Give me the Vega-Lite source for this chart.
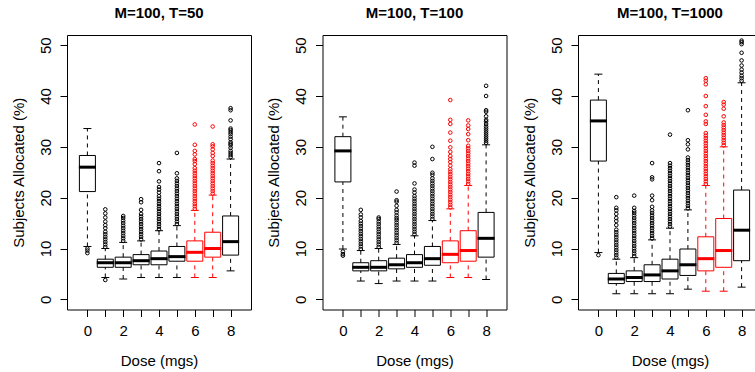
{
 "$schema": "https://vega.github.io/schema/vega-lite/v6.json",
 "background": "white",
 "padding": {"left": 10, "top": 5, "right": 0, "bottom": 0},
 "bounds": "flush",
 "spacing": 71.5,
 "config": {
  "font": "Liberation Sans",
  "view": {"stroke": "black", "strokeWidth": 1},
  "tick": {"opacity": 1},
  "axis": {"domain": false, "grid": false, "tickColor": "black", "tickSize": 7, "tickWidth": 1, "labelFontSize": 15, "titleFontSize": 15, "titleFontWeight": "normal", "labelColor": "black", "titleColor": "black", "labelFont": "Liberation Sans", "titleFont": "Liberation Sans"},
  "axisX": {"labelPadding": 7, "titlePadding": 15, "labelAngle": 0},
  "axisY": {"labelAngle": -90, "labelAlign": "center", "labelBaseline": "alphabetic", "labelPadding": 10, "titlePadding": 12},
  "title": {"fontSize": 15, "fontWeight": "bold", "font": "Liberation Sans", "color": "black", "offset": 14}
 },
 "datasets": {
  "boxes": [
   {"T":50,"dose":0,"lo":10.4,"q1":21.2,"med":26.0,"q3":28.3,"hi":33.6},
   {"T":50,"dose":1,"lo":4.3,"q1":6.3,"med":7.2,"q3":7.9,"hi":10.0},
   {"T":50,"dose":2,"lo":4.0,"q1":6.3,"med":7.2,"q3":8.3,"hi":11.2},
   {"T":50,"dose":3,"lo":4.3,"q1":6.8,"med":7.6,"q3":8.8,"hi":11.5},
   {"T":50,"dose":4,"lo":4.3,"q1":6.8,"med":8.0,"q3":9.5,"hi":13.5},
   {"T":50,"dose":5,"lo":4.3,"q1":7.5,"med":8.4,"q3":10.4,"hi":14.5},
   {"T":50,"dose":6,"lo":4.3,"q1":7.5,"med":9.25,"q3":11.5,"hi":17.5},
   {"T":50,"dose":7,"lo":4.3,"q1":8.3,"med":10.0,"q3":13.2,"hi":20.5},
   {"T":50,"dose":8,"lo":5.6,"q1":8.7,"med":11.35,"q3":16.4,"hi":27.6},
   {"T":100,"dose":0,"lo":9.9,"q1":23.1,"med":29.2,"q3":32.0,"hi":35.9},
   {"T":100,"dose":1,"lo":3.6,"q1":5.6,"med":6.3,"q3":7.2,"hi":9.6},
   {"T":100,"dose":2,"lo":3.1,"q1":5.6,"med":6.3,"q3":7.6,"hi":10.0},
   {"T":100,"dose":3,"lo":3.6,"q1":6.0,"med":6.8,"q3":8.1,"hi":10.8},
   {"T":100,"dose":4,"lo":3.6,"q1":6.3,"med":7.2,"q3":8.8,"hi":12.5},
   {"T":100,"dose":5,"lo":3.6,"q1":6.7,"med":8.0,"q3":10.4,"hi":15.5},
   {"T":100,"dose":6,"lo":4.3,"q1":7.2,"med":8.85,"q3":11.5,"hi":17.8},
   {"T":100,"dose":7,"lo":4.3,"q1":7.5,"med":9.6,"q3":13.5,"hi":22.4},
   {"T":100,"dose":8,"lo":3.9,"q1":8.3,"med":12.0,"q3":17.1,"hi":30.4},
   {"T":1000,"dose":0,"lo":9.2,"q1":27.2,"med":35.1,"q3":39.2,"hi":44.3},
   {"T":1000,"dose":1,"lo":1.1,"q1":3.1,"med":4.0,"q3":5.1,"hi":7.9},
   {"T":1000,"dose":2,"lo":1.1,"q1":3.5,"med":4.3,"q3":5.6,"hi":8.2},
   {"T":1000,"dose":3,"lo":1.1,"q1":3.5,"med":4.8,"q3":6.8,"hi":11.7},
   {"T":1000,"dose":4,"lo":1.1,"q1":4.0,"med":5.6,"q3":7.9,"hi":14.0},
   {"T":1000,"dose":5,"lo":2.0,"q1":4.7,"med":6.8,"q3":9.9,"hi":17.6},
   {"T":1000,"dose":6,"lo":1.6,"q1":5.6,"med":8.0,"q3":12.3,"hi":22.4},
   {"T":1000,"dose":7,"lo":1.6,"q1":6.3,"med":9.6,"q3":15.9,"hi":30.0},
   {"T":1000,"dose":8,"lo":2.4,"q1":7.6,"med":13.6,"q3":21.5,"hi":42.6}
  ],
  "outliers": [
   {"T":50,"dose":0,"pct":10.0},{"T":50,"dose":0,"pct":9.6},{"T":50,"dose":0,"pct":9.1},
   {"T":50,"dose":1,"pct":3.8},{"T":50,"dose":1,"pct":10.3},{"T":50,"dose":1,"pct":10.8},{"T":50,"dose":1,"pct":11.3},{"T":50,"dose":1,"pct":11.8},{"T":50,"dose":1,"pct":12.3},{"T":50,"dose":1,"pct":12.8},{"T":50,"dose":1,"pct":13.3},{"T":50,"dose":1,"pct":14.0},{"T":50,"dose":1,"pct":14.6},{"T":50,"dose":1,"pct":15.3},{"T":50,"dose":1,"pct":16.1},{"T":50,"dose":1,"pct":16.9},{"T":50,"dose":1,"pct":17.7},
   {"T":50,"dose":2,"pct":11.5},{"T":50,"dose":2,"pct":12.0},{"T":50,"dose":2,"pct":12.5},{"T":50,"dose":2,"pct":13.0},{"T":50,"dose":2,"pct":13.5},{"T":50,"dose":2,"pct":14.0},{"T":50,"dose":2,"pct":14.5},{"T":50,"dose":2,"pct":15.0},{"T":50,"dose":2,"pct":15.5},{"T":50,"dose":2,"pct":16.0},{"T":50,"dose":2,"pct":16.4},
   {"T":50,"dose":3,"pct":11.8},{"T":50,"dose":3,"pct":12.3},{"T":50,"dose":3,"pct":12.8},{"T":50,"dose":3,"pct":13.3},{"T":50,"dose":3,"pct":13.8},{"T":50,"dose":3,"pct":14.3},{"T":50,"dose":3,"pct":14.8},{"T":50,"dose":3,"pct":15.3},{"T":50,"dose":3,"pct":15.8},{"T":50,"dose":3,"pct":16.3},{"T":50,"dose":3,"pct":16.8},{"T":50,"dose":3,"pct":17.6},{"T":50,"dose":3,"pct":19.1},{"T":50,"dose":3,"pct":19.7},
   {"T":50,"dose":4,"pct":13.8},{"T":50,"dose":4,"pct":14.3},{"T":50,"dose":4,"pct":14.8},{"T":50,"dose":4,"pct":15.3},{"T":50,"dose":4,"pct":15.8},{"T":50,"dose":4,"pct":16.3},{"T":50,"dose":4,"pct":16.8},{"T":50,"dose":4,"pct":17.3},{"T":50,"dose":4,"pct":17.8},{"T":50,"dose":4,"pct":18.3},{"T":50,"dose":4,"pct":18.8},{"T":50,"dose":4,"pct":19.3},{"T":50,"dose":4,"pct":19.8},{"T":50,"dose":4,"pct":20.3},{"T":50,"dose":4,"pct":21.0},{"T":50,"dose":4,"pct":21.6},{"T":50,"dose":4,"pct":22.1},{"T":50,"dose":4,"pct":23.2},{"T":50,"dose":4,"pct":25.2},{"T":50,"dose":4,"pct":26.8},
   {"T":50,"dose":5,"pct":14.8},{"T":50,"dose":5,"pct":15.3},{"T":50,"dose":5,"pct":15.8},{"T":50,"dose":5,"pct":16.3},{"T":50,"dose":5,"pct":16.8},{"T":50,"dose":5,"pct":17.3},{"T":50,"dose":5,"pct":17.8},{"T":50,"dose":5,"pct":18.3},{"T":50,"dose":5,"pct":18.8},{"T":50,"dose":5,"pct":19.3},{"T":50,"dose":5,"pct":19.8},{"T":50,"dose":5,"pct":20.3},{"T":50,"dose":5,"pct":20.8},{"T":50,"dose":5,"pct":21.3},{"T":50,"dose":5,"pct":21.8},{"T":50,"dose":5,"pct":22.3},{"T":50,"dose":5,"pct":22.8},{"T":50,"dose":5,"pct":23.3},{"T":50,"dose":5,"pct":23.8},{"T":50,"dose":5,"pct":24.8},{"T":50,"dose":5,"pct":28.8},
   {"T":50,"dose":6,"pct":17.8},{"T":50,"dose":6,"pct":18.3},{"T":50,"dose":6,"pct":18.8},{"T":50,"dose":6,"pct":19.3},{"T":50,"dose":6,"pct":19.8},{"T":50,"dose":6,"pct":20.3},{"T":50,"dose":6,"pct":20.8},{"T":50,"dose":6,"pct":21.3},{"T":50,"dose":6,"pct":21.8},{"T":50,"dose":6,"pct":22.3},{"T":50,"dose":6,"pct":22.8},{"T":50,"dose":6,"pct":23.3},{"T":50,"dose":6,"pct":23.8},{"T":50,"dose":6,"pct":24.3},{"T":50,"dose":6,"pct":24.8},{"T":50,"dose":6,"pct":25.3},{"T":50,"dose":6,"pct":25.8},{"T":50,"dose":6,"pct":26.6},{"T":50,"dose":6,"pct":27.2},{"T":50,"dose":6,"pct":27.6},{"T":50,"dose":6,"pct":28.5},{"T":50,"dose":6,"pct":29.2},{"T":50,"dose":6,"pct":30.4},{"T":50,"dose":6,"pct":34.4},
   {"T":50,"dose":7,"pct":20.8},{"T":50,"dose":7,"pct":21.3},{"T":50,"dose":7,"pct":21.8},{"T":50,"dose":7,"pct":22.3},{"T":50,"dose":7,"pct":22.8},{"T":50,"dose":7,"pct":23.3},{"T":50,"dose":7,"pct":23.8},{"T":50,"dose":7,"pct":24.3},{"T":50,"dose":7,"pct":24.8},{"T":50,"dose":7,"pct":25.3},{"T":50,"dose":7,"pct":25.8},{"T":50,"dose":7,"pct":26.3},{"T":50,"dose":7,"pct":26.8},{"T":50,"dose":7,"pct":27.3},{"T":50,"dose":7,"pct":28.2},{"T":50,"dose":7,"pct":28.8},{"T":50,"dose":7,"pct":29.5},{"T":50,"dose":7,"pct":30.1},{"T":50,"dose":7,"pct":30.5},{"T":50,"dose":7,"pct":34.0},
   {"T":50,"dose":8,"pct":28.0},{"T":50,"dose":8,"pct":28.4},{"T":50,"dose":8,"pct":28.8},{"T":50,"dose":8,"pct":29.2},{"T":50,"dose":8,"pct":29.8},{"T":50,"dose":8,"pct":30.3},{"T":50,"dose":8,"pct":30.6},{"T":50,"dose":8,"pct":30.9},{"T":50,"dose":8,"pct":31.5},{"T":50,"dose":8,"pct":32.0},{"T":50,"dose":8,"pct":32.5},{"T":50,"dose":8,"pct":32.9},{"T":50,"dose":8,"pct":33.3},{"T":50,"dose":8,"pct":33.6},{"T":50,"dose":8,"pct":35.2},{"T":50,"dose":8,"pct":37.2},{"T":50,"dose":8,"pct":37.6},
   {"T":100,"dose":0,"pct":9.4},{"T":100,"dose":0,"pct":8.9},{"T":100,"dose":0,"pct":8.6},
   {"T":100,"dose":1,"pct":9.9},{"T":100,"dose":1,"pct":10.4},{"T":100,"dose":1,"pct":10.9},{"T":100,"dose":1,"pct":11.4},{"T":100,"dose":1,"pct":11.9},{"T":100,"dose":1,"pct":12.4},{"T":100,"dose":1,"pct":12.9},{"T":100,"dose":1,"pct":13.4},{"T":100,"dose":1,"pct":13.9},{"T":100,"dose":1,"pct":14.4},{"T":100,"dose":1,"pct":14.9},{"T":100,"dose":1,"pct":15.4},{"T":100,"dose":1,"pct":16.1},{"T":100,"dose":1,"pct":16.7},{"T":100,"dose":1,"pct":17.6},
   {"T":100,"dose":2,"pct":10.3},{"T":100,"dose":2,"pct":10.8},{"T":100,"dose":2,"pct":11.3},{"T":100,"dose":2,"pct":11.8},{"T":100,"dose":2,"pct":12.3},{"T":100,"dose":2,"pct":12.8},{"T":100,"dose":2,"pct":13.3},{"T":100,"dose":2,"pct":13.8},{"T":100,"dose":2,"pct":14.3},{"T":100,"dose":2,"pct":14.8},{"T":100,"dose":2,"pct":15.3},{"T":100,"dose":2,"pct":15.8},{"T":100,"dose":2,"pct":16.1},
   {"T":100,"dose":3,"pct":11.1},{"T":100,"dose":3,"pct":11.6},{"T":100,"dose":3,"pct":12.1},{"T":100,"dose":3,"pct":12.6},{"T":100,"dose":3,"pct":13.1},{"T":100,"dose":3,"pct":13.6},{"T":100,"dose":3,"pct":14.1},{"T":100,"dose":3,"pct":14.6},{"T":100,"dose":3,"pct":15.1},{"T":100,"dose":3,"pct":15.6},{"T":100,"dose":3,"pct":16.0},{"T":100,"dose":3,"pct":16.5},{"T":100,"dose":3,"pct":17.1},{"T":100,"dose":3,"pct":17.6},{"T":100,"dose":3,"pct":18.4},{"T":100,"dose":3,"pct":19.2},{"T":100,"dose":3,"pct":19.5},{"T":100,"dose":3,"pct":21.2},
   {"T":100,"dose":4,"pct":12.8},{"T":100,"dose":4,"pct":13.3},{"T":100,"dose":4,"pct":13.8},{"T":100,"dose":4,"pct":14.3},{"T":100,"dose":4,"pct":14.8},{"T":100,"dose":4,"pct":15.3},{"T":100,"dose":4,"pct":15.8},{"T":100,"dose":4,"pct":16.3},{"T":100,"dose":4,"pct":16.8},{"T":100,"dose":4,"pct":17.3},{"T":100,"dose":4,"pct":17.8},{"T":100,"dose":4,"pct":18.3},{"T":100,"dose":4,"pct":18.8},{"T":100,"dose":4,"pct":19.3},{"T":100,"dose":4,"pct":19.8},{"T":100,"dose":4,"pct":20.3},{"T":100,"dose":4,"pct":21.0},{"T":100,"dose":4,"pct":21.6},{"T":100,"dose":4,"pct":22.8},{"T":100,"dose":4,"pct":26.3},{"T":100,"dose":4,"pct":26.9},
   {"T":100,"dose":5,"pct":15.8},{"T":100,"dose":5,"pct":16.3},{"T":100,"dose":5,"pct":16.8},{"T":100,"dose":5,"pct":17.3},{"T":100,"dose":5,"pct":17.8},{"T":100,"dose":5,"pct":18.3},{"T":100,"dose":5,"pct":18.8},{"T":100,"dose":5,"pct":19.3},{"T":100,"dose":5,"pct":19.8},{"T":100,"dose":5,"pct":20.3},{"T":100,"dose":5,"pct":20.8},{"T":100,"dose":5,"pct":21.3},{"T":100,"dose":5,"pct":21.8},{"T":100,"dose":5,"pct":22.3},{"T":100,"dose":5,"pct":22.8},{"T":100,"dose":5,"pct":23.3},{"T":100,"dose":5,"pct":23.8},{"T":100,"dose":5,"pct":24.5},{"T":100,"dose":5,"pct":24.9},{"T":100,"dose":5,"pct":27.6},{"T":100,"dose":5,"pct":30.0},
   {"T":100,"dose":6,"pct":18.1},{"T":100,"dose":6,"pct":18.6},{"T":100,"dose":6,"pct":19.1},{"T":100,"dose":6,"pct":19.6},{"T":100,"dose":6,"pct":20.1},{"T":100,"dose":6,"pct":20.6},{"T":100,"dose":6,"pct":21.1},{"T":100,"dose":6,"pct":21.6},{"T":100,"dose":6,"pct":22.1},{"T":100,"dose":6,"pct":22.6},{"T":100,"dose":6,"pct":23.1},{"T":100,"dose":6,"pct":23.6},{"T":100,"dose":6,"pct":24.1},{"T":100,"dose":6,"pct":24.6},{"T":100,"dose":6,"pct":25.1},{"T":100,"dose":6,"pct":25.6},{"T":100,"dose":6,"pct":26.3},{"T":100,"dose":6,"pct":27.0},{"T":100,"dose":6,"pct":27.6},{"T":100,"dose":6,"pct":28.2},{"T":100,"dose":6,"pct":29.0},{"T":100,"dose":6,"pct":29.9},{"T":100,"dose":6,"pct":31.2},{"T":100,"dose":6,"pct":32.8},{"T":100,"dose":6,"pct":34.5},{"T":100,"dose":6,"pct":35.3},{"T":100,"dose":6,"pct":39.2},
   {"T":100,"dose":7,"pct":22.7},{"T":100,"dose":7,"pct":23.2},{"T":100,"dose":7,"pct":23.7},{"T":100,"dose":7,"pct":24.2},{"T":100,"dose":7,"pct":24.7},{"T":100,"dose":7,"pct":25.2},{"T":100,"dose":7,"pct":25.7},{"T":100,"dose":7,"pct":26.2},{"T":100,"dose":7,"pct":26.7},{"T":100,"dose":7,"pct":27.2},{"T":100,"dose":7,"pct":27.7},{"T":100,"dose":7,"pct":28.2},{"T":100,"dose":7,"pct":28.7},{"T":100,"dose":7,"pct":29.2},{"T":100,"dose":7,"pct":29.7},{"T":100,"dose":7,"pct":30.2},{"T":100,"dose":7,"pct":31.3},{"T":100,"dose":7,"pct":32.5},{"T":100,"dose":7,"pct":33.5},{"T":100,"dose":7,"pct":34.2},{"T":100,"dose":7,"pct":35.2},
   {"T":100,"dose":8,"pct":30.8},{"T":100,"dose":8,"pct":31.2},{"T":100,"dose":8,"pct":31.6},{"T":100,"dose":8,"pct":32.0},{"T":100,"dose":8,"pct":32.4},{"T":100,"dose":8,"pct":32.8},{"T":100,"dose":8,"pct":33.2},{"T":100,"dose":8,"pct":33.6},{"T":100,"dose":8,"pct":34.0},{"T":100,"dose":8,"pct":34.5},{"T":100,"dose":8,"pct":35.0},{"T":100,"dose":8,"pct":35.3},{"T":100,"dose":8,"pct":36.0},{"T":100,"dose":8,"pct":36.9},{"T":100,"dose":8,"pct":37.2},{"T":100,"dose":8,"pct":40.0},{"T":100,"dose":8,"pct":42.0},
   {"T":1000,"dose":0,"pct":8.7},
   {"T":1000,"dose":1,"pct":8.2},{"T":1000,"dose":1,"pct":8.7},{"T":1000,"dose":1,"pct":9.2},{"T":1000,"dose":1,"pct":9.7},{"T":1000,"dose":1,"pct":10.2},{"T":1000,"dose":1,"pct":10.7},{"T":1000,"dose":1,"pct":11.2},{"T":1000,"dose":1,"pct":11.7},{"T":1000,"dose":1,"pct":12.2},{"T":1000,"dose":1,"pct":12.7},{"T":1000,"dose":1,"pct":13.2},{"T":1000,"dose":1,"pct":13.7},{"T":1000,"dose":1,"pct":14.6},{"T":1000,"dose":1,"pct":15.4},{"T":1000,"dose":1,"pct":16.0},{"T":1000,"dose":1,"pct":16.8},{"T":1000,"dose":1,"pct":17.5},{"T":1000,"dose":1,"pct":18.0},{"T":1000,"dose":1,"pct":20.1},
   {"T":1000,"dose":2,"pct":8.5},{"T":1000,"dose":2,"pct":9.0},{"T":1000,"dose":2,"pct":9.5},{"T":1000,"dose":2,"pct":10.0},{"T":1000,"dose":2,"pct":10.5},{"T":1000,"dose":2,"pct":11.0},{"T":1000,"dose":2,"pct":11.5},{"T":1000,"dose":2,"pct":12.0},{"T":1000,"dose":2,"pct":12.5},{"T":1000,"dose":2,"pct":13.0},{"T":1000,"dose":2,"pct":13.5},{"T":1000,"dose":2,"pct":14.0},{"T":1000,"dose":2,"pct":14.5},{"T":1000,"dose":2,"pct":15.0},{"T":1000,"dose":2,"pct":15.5},{"T":1000,"dose":2,"pct":16.0},{"T":1000,"dose":2,"pct":16.5},{"T":1000,"dose":2,"pct":17.0},{"T":1000,"dose":2,"pct":17.4},{"T":1000,"dose":2,"pct":18.0},{"T":1000,"dose":2,"pct":20.4},
   {"T":1000,"dose":3,"pct":12.0},{"T":1000,"dose":3,"pct":12.5},{"T":1000,"dose":3,"pct":13.0},{"T":1000,"dose":3,"pct":13.5},{"T":1000,"dose":3,"pct":14.0},{"T":1000,"dose":3,"pct":14.5},{"T":1000,"dose":3,"pct":15.0},{"T":1000,"dose":3,"pct":15.5},{"T":1000,"dose":3,"pct":16.0},{"T":1000,"dose":3,"pct":16.5},{"T":1000,"dose":3,"pct":17.0},{"T":1000,"dose":3,"pct":17.5},{"T":1000,"dose":3,"pct":18.2},{"T":1000,"dose":3,"pct":19.5},{"T":1000,"dose":3,"pct":20.4},{"T":1000,"dose":3,"pct":23.6},{"T":1000,"dose":3,"pct":24.0},{"T":1000,"dose":3,"pct":26.8},
   {"T":1000,"dose":4,"pct":14.3},{"T":1000,"dose":4,"pct":14.8},{"T":1000,"dose":4,"pct":15.3},{"T":1000,"dose":4,"pct":15.8},{"T":1000,"dose":4,"pct":16.3},{"T":1000,"dose":4,"pct":16.8},{"T":1000,"dose":4,"pct":17.3},{"T":1000,"dose":4,"pct":17.8},{"T":1000,"dose":4,"pct":18.3},{"T":1000,"dose":4,"pct":18.8},{"T":1000,"dose":4,"pct":19.3},{"T":1000,"dose":4,"pct":19.8},{"T":1000,"dose":4,"pct":20.3},{"T":1000,"dose":4,"pct":20.8},{"T":1000,"dose":4,"pct":21.3},{"T":1000,"dose":4,"pct":21.8},{"T":1000,"dose":4,"pct":22.3},{"T":1000,"dose":4,"pct":22.8},{"T":1000,"dose":4,"pct":23.3},{"T":1000,"dose":4,"pct":23.8},{"T":1000,"dose":4,"pct":24.3},{"T":1000,"dose":4,"pct":24.8},{"T":1000,"dose":4,"pct":25.3},{"T":1000,"dose":4,"pct":25.8},{"T":1000,"dose":4,"pct":26.3},{"T":1000,"dose":4,"pct":26.8},{"T":1000,"dose":4,"pct":32.4},
   {"T":1000,"dose":5,"pct":17.9},{"T":1000,"dose":5,"pct":18.4},{"T":1000,"dose":5,"pct":18.9},{"T":1000,"dose":5,"pct":19.4},{"T":1000,"dose":5,"pct":19.9},{"T":1000,"dose":5,"pct":20.4},{"T":1000,"dose":5,"pct":20.9},{"T":1000,"dose":5,"pct":21.4},{"T":1000,"dose":5,"pct":21.9},{"T":1000,"dose":5,"pct":22.4},{"T":1000,"dose":5,"pct":22.9},{"T":1000,"dose":5,"pct":23.4},{"T":1000,"dose":5,"pct":23.9},{"T":1000,"dose":5,"pct":24.4},{"T":1000,"dose":5,"pct":24.9},{"T":1000,"dose":5,"pct":25.4},{"T":1000,"dose":5,"pct":25.9},{"T":1000,"dose":5,"pct":26.4},{"T":1000,"dose":5,"pct":26.9},{"T":1000,"dose":5,"pct":27.4},{"T":1000,"dose":5,"pct":27.9},{"T":1000,"dose":5,"pct":29.5},{"T":1000,"dose":5,"pct":30.5},{"T":1000,"dose":5,"pct":31.3},{"T":1000,"dose":5,"pct":37.2},
   {"T":1000,"dose":6,"pct":22.7},{"T":1000,"dose":6,"pct":23.2},{"T":1000,"dose":6,"pct":23.7},{"T":1000,"dose":6,"pct":24.2},{"T":1000,"dose":6,"pct":24.7},{"T":1000,"dose":6,"pct":25.2},{"T":1000,"dose":6,"pct":25.7},{"T":1000,"dose":6,"pct":26.2},{"T":1000,"dose":6,"pct":26.7},{"T":1000,"dose":6,"pct":27.2},{"T":1000,"dose":6,"pct":27.7},{"T":1000,"dose":6,"pct":28.2},{"T":1000,"dose":6,"pct":28.7},{"T":1000,"dose":6,"pct":29.2},{"T":1000,"dose":6,"pct":29.7},{"T":1000,"dose":6,"pct":30.2},{"T":1000,"dose":6,"pct":30.7},{"T":1000,"dose":6,"pct":31.2},{"T":1000,"dose":6,"pct":31.7},{"T":1000,"dose":6,"pct":32.2},{"T":1000,"dose":6,"pct":32.7},{"T":1000,"dose":6,"pct":34.5},{"T":1000,"dose":6,"pct":35.0},{"T":1000,"dose":6,"pct":36.3},{"T":1000,"dose":6,"pct":38.0},{"T":1000,"dose":6,"pct":40.0},{"T":1000,"dose":6,"pct":42.3},{"T":1000,"dose":6,"pct":43.0},{"T":1000,"dose":6,"pct":43.5},
   {"T":1000,"dose":7,"pct":30.3},{"T":1000,"dose":7,"pct":30.8},{"T":1000,"dose":7,"pct":31.3},{"T":1000,"dose":7,"pct":31.8},{"T":1000,"dose":7,"pct":32.3},{"T":1000,"dose":7,"pct":32.8},{"T":1000,"dose":7,"pct":33.3},{"T":1000,"dose":7,"pct":33.8},{"T":1000,"dose":7,"pct":34.3},{"T":1000,"dose":7,"pct":34.8},{"T":1000,"dose":7,"pct":36.0},{"T":1000,"dose":7,"pct":37.5},{"T":1000,"dose":7,"pct":38.3},{"T":1000,"dose":7,"pct":38.8},
   {"T":1000,"dose":8,"pct":43.0},{"T":1000,"dose":8,"pct":43.5},{"T":1000,"dose":8,"pct":44.0},{"T":1000,"dose":8,"pct":44.6},{"T":1000,"dose":8,"pct":45.2},{"T":1000,"dose":8,"pct":46.0},{"T":1000,"dose":8,"pct":47.0},{"T":1000,"dose":8,"pct":48.5},{"T":1000,"dose":8,"pct":50.2},{"T":1000,"dose":8,"pct":50.6},{"T":1000,"dose":8,"pct":50.9}
  ]
 },
 "hconcat": [
  {
   "title": "M=100, T=50",
   "width": 184, "height": 274.5,
   "encoding": {"x": {"field": "dose", "type": "quantitative", "scale": {"domain": [-0.86, 8.86], "nice": false, "zero": false}, "axis": {"values": [0,1,2,3,4,5,6,7,8], "labelExpr": "datum.value % 2 == 0 ? datum.label : ''", "title": "Dose (mgs)"}}},
   "layer": [
    {"data": {"name": "boxes"}, "transform": [{"filter": "datum.T == 50"}], "mark": {"type": "rule", "strokeDash": [4, 4], "strokeWidth": 1}, "encoding": {"y": {"field": "lo", "type": "quantitative", "scale": {"domain": [-2, 52], "nice": false, "zero": false}, "axis": {"values": [0,10,20,30,40,50], "title": "Subjects Allocated (%)"}}, "y2": {"field": "q1"}, "color": {"condition": {"test": "datum.dose == 6 || datum.dose == 7", "value": "#FF0000"}, "value": "#000000"}}},
    {"data": {"name": "boxes"}, "transform": [{"filter": "datum.T == 50"}], "mark": {"type": "rule", "strokeDash": [4, 4], "strokeWidth": 1}, "encoding": {"y": {"field": "q3", "type": "quantitative"}, "y2": {"field": "hi"}, "color": {"condition": {"test": "datum.dose == 6 || datum.dose == 7", "value": "#FF0000"}, "value": "#000000"}}},
    {"data": {"name": "boxes"}, "transform": [{"filter": "datum.T == 50"}], "mark": {"type": "tick", "orient": "horizontal", "size": 8, "thickness": 1, "opacity": 1}, "encoding": {"y": {"field": "lo", "type": "quantitative"}, "color": {"condition": {"test": "datum.dose == 6 || datum.dose == 7", "value": "#FF0000"}, "value": "#000000"}}},
    {"data": {"name": "boxes"}, "transform": [{"filter": "datum.T == 50"}], "mark": {"type": "tick", "orient": "horizontal", "size": 8, "thickness": 1, "opacity": 1}, "encoding": {"y": {"field": "hi", "type": "quantitative"}, "color": {"condition": {"test": "datum.dose == 6 || datum.dose == 7", "value": "#FF0000"}, "value": "#000000"}}},
    {"data": {"name": "boxes"}, "transform": [{"filter": "datum.T == 50"}], "mark": {"type": "bar", "orient": "vertical", "size": 16, "fill": "transparent", "strokeWidth": 1}, "encoding": {"y": {"field": "q1", "type": "quantitative"}, "y2": {"field": "q3"}, "stroke": {"condition": {"test": "datum.dose == 6 || datum.dose == 7", "value": "#FF0000"}, "value": "#000000"}}},
    {"data": {"name": "boxes"}, "transform": [{"filter": "datum.T == 50"}], "mark": {"type": "tick", "orient": "horizontal", "size": 17, "thickness": 3, "opacity": 1}, "encoding": {"y": {"field": "med", "type": "quantitative"}, "color": {"condition": {"test": "datum.dose == 6 || datum.dose == 7", "value": "#FF0000"}, "value": "#000000"}}},
    {"data": {"name": "outliers"}, "transform": [{"filter": "datum.T == 50"}], "mark": {"type": "point", "shape": "circle", "filled": false, "size": 13, "strokeWidth": 1, "opacity": 1}, "encoding": {"y": {"field": "pct", "type": "quantitative"}, "color": {"condition": {"test": "datum.dose == 6 || datum.dose == 7", "value": "#FF0000"}, "value": "#000000"}}}
   ]
  },
  {
   "title": "M=100, T=100",
   "width": 184, "height": 274.5,
   "encoding": {"x": {"field": "dose", "type": "quantitative", "scale": {"domain": [-0.86, 8.86], "nice": false, "zero": false}, "axis": {"values": [0,1,2,3,4,5,6,7,8], "labelExpr": "datum.value % 2 == 0 ? datum.label : ''", "title": "Dose (mgs)"}}},
   "layer": [
    {"data": {"name": "boxes"}, "transform": [{"filter": "datum.T == 100"}], "mark": {"type": "rule", "strokeDash": [4, 4], "strokeWidth": 1}, "encoding": {"y": {"field": "lo", "type": "quantitative", "scale": {"domain": [-2, 52], "nice": false, "zero": false}, "axis": {"values": [0,10,20,30,40,50], "title": "Subjects Allocated (%)"}}, "y2": {"field": "q1"}, "color": {"condition": {"test": "datum.dose == 6 || datum.dose == 7", "value": "#FF0000"}, "value": "#000000"}}},
    {"data": {"name": "boxes"}, "transform": [{"filter": "datum.T == 100"}], "mark": {"type": "rule", "strokeDash": [4, 4], "strokeWidth": 1}, "encoding": {"y": {"field": "q3", "type": "quantitative"}, "y2": {"field": "hi"}, "color": {"condition": {"test": "datum.dose == 6 || datum.dose == 7", "value": "#FF0000"}, "value": "#000000"}}},
    {"data": {"name": "boxes"}, "transform": [{"filter": "datum.T == 100"}], "mark": {"type": "tick", "orient": "horizontal", "size": 8, "thickness": 1, "opacity": 1}, "encoding": {"y": {"field": "lo", "type": "quantitative"}, "color": {"condition": {"test": "datum.dose == 6 || datum.dose == 7", "value": "#FF0000"}, "value": "#000000"}}},
    {"data": {"name": "boxes"}, "transform": [{"filter": "datum.T == 100"}], "mark": {"type": "tick", "orient": "horizontal", "size": 8, "thickness": 1, "opacity": 1}, "encoding": {"y": {"field": "hi", "type": "quantitative"}, "color": {"condition": {"test": "datum.dose == 6 || datum.dose == 7", "value": "#FF0000"}, "value": "#000000"}}},
    {"data": {"name": "boxes"}, "transform": [{"filter": "datum.T == 100"}], "mark": {"type": "bar", "orient": "vertical", "size": 16, "fill": "transparent", "strokeWidth": 1}, "encoding": {"y": {"field": "q1", "type": "quantitative"}, "y2": {"field": "q3"}, "stroke": {"condition": {"test": "datum.dose == 6 || datum.dose == 7", "value": "#FF0000"}, "value": "#000000"}}},
    {"data": {"name": "boxes"}, "transform": [{"filter": "datum.T == 100"}], "mark": {"type": "tick", "orient": "horizontal", "size": 17, "thickness": 3, "opacity": 1}, "encoding": {"y": {"field": "med", "type": "quantitative"}, "color": {"condition": {"test": "datum.dose == 6 || datum.dose == 7", "value": "#FF0000"}, "value": "#000000"}}},
    {"data": {"name": "outliers"}, "transform": [{"filter": "datum.T == 100"}], "mark": {"type": "point", "shape": "circle", "filled": false, "size": 13, "strokeWidth": 1, "opacity": 1}, "encoding": {"y": {"field": "pct", "type": "quantitative"}, "color": {"condition": {"test": "datum.dose == 6 || datum.dose == 7", "value": "#FF0000"}, "value": "#000000"}}}
   ]
  },
  {
   "title": "M=100, T=1000",
   "width": 184, "height": 274.5,
   "encoding": {"x": {"field": "dose", "type": "quantitative", "scale": {"domain": [-0.86, 8.86], "nice": false, "zero": false}, "axis": {"values": [0,1,2,3,4,5,6,7,8], "labelExpr": "datum.value % 2 == 0 ? datum.label : ''", "title": "Dose (mgs)"}}},
   "layer": [
    {"data": {"name": "boxes"}, "transform": [{"filter": "datum.T == 1000"}], "mark": {"type": "rule", "strokeDash": [4, 4], "strokeWidth": 1}, "encoding": {"y": {"field": "lo", "type": "quantitative", "scale": {"domain": [-2, 52], "nice": false, "zero": false}, "axis": {"values": [0,10,20,30,40,50], "title": "Subjects Allocated (%)"}}, "y2": {"field": "q1"}, "color": {"condition": {"test": "datum.dose == 6 || datum.dose == 7", "value": "#FF0000"}, "value": "#000000"}}},
    {"data": {"name": "boxes"}, "transform": [{"filter": "datum.T == 1000"}], "mark": {"type": "rule", "strokeDash": [4, 4], "strokeWidth": 1}, "encoding": {"y": {"field": "q3", "type": "quantitative"}, "y2": {"field": "hi"}, "color": {"condition": {"test": "datum.dose == 6 || datum.dose == 7", "value": "#FF0000"}, "value": "#000000"}}},
    {"data": {"name": "boxes"}, "transform": [{"filter": "datum.T == 1000"}], "mark": {"type": "tick", "orient": "horizontal", "size": 8, "thickness": 1, "opacity": 1}, "encoding": {"y": {"field": "lo", "type": "quantitative"}, "color": {"condition": {"test": "datum.dose == 6 || datum.dose == 7", "value": "#FF0000"}, "value": "#000000"}}},
    {"data": {"name": "boxes"}, "transform": [{"filter": "datum.T == 1000"}], "mark": {"type": "tick", "orient": "horizontal", "size": 8, "thickness": 1, "opacity": 1}, "encoding": {"y": {"field": "hi", "type": "quantitative"}, "color": {"condition": {"test": "datum.dose == 6 || datum.dose == 7", "value": "#FF0000"}, "value": "#000000"}}},
    {"data": {"name": "boxes"}, "transform": [{"filter": "datum.T == 1000"}], "mark": {"type": "bar", "orient": "vertical", "size": 16, "fill": "transparent", "strokeWidth": 1}, "encoding": {"y": {"field": "q1", "type": "quantitative"}, "y2": {"field": "q3"}, "stroke": {"condition": {"test": "datum.dose == 6 || datum.dose == 7", "value": "#FF0000"}, "value": "#000000"}}},
    {"data": {"name": "boxes"}, "transform": [{"filter": "datum.T == 1000"}], "mark": {"type": "tick", "orient": "horizontal", "size": 17, "thickness": 3, "opacity": 1}, "encoding": {"y": {"field": "med", "type": "quantitative"}, "color": {"condition": {"test": "datum.dose == 6 || datum.dose == 7", "value": "#FF0000"}, "value": "#000000"}}},
    {"data": {"name": "outliers"}, "transform": [{"filter": "datum.T == 1000"}], "mark": {"type": "point", "shape": "circle", "filled": false, "size": 13, "strokeWidth": 1, "opacity": 1}, "encoding": {"y": {"field": "pct", "type": "quantitative"}, "color": {"condition": {"test": "datum.dose == 6 || datum.dose == 7", "value": "#FF0000"}, "value": "#000000"}}}
   ]
  }
 ]
}
